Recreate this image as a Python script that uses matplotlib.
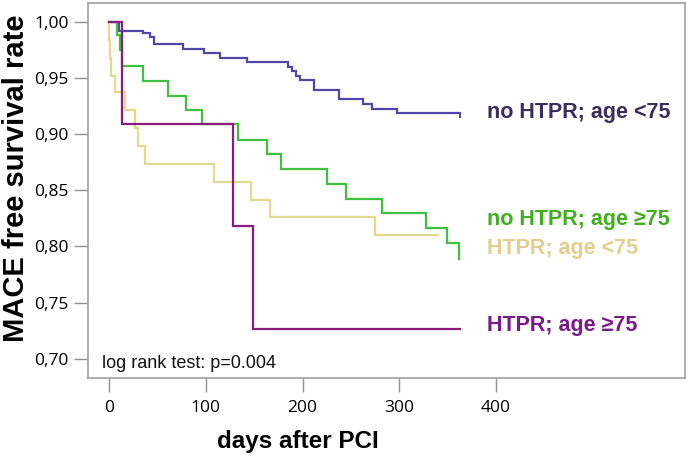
import matplotlib
matplotlib.use("Agg")
import matplotlib.pyplot as plt

# ---- data (days after PCI, MACE free survival) ----
blue_days = [0, 10, 35, 42, 47, 76, 98, 115, 143, 185, 189, 193, 197, 212, 238, 263, 272, 298, 363]
blue_surv = [1.000, 0.992, 0.990, 0.986, 0.980, 0.976, 0.972, 0.968, 0.964, 0.960, 0.956, 0.952, 0.948,
             0.939, 0.931, 0.927, 0.922, 0.919, 0.919]
blue_censor_day = [363]
blue_censor_surv = [0.917]

green_days = [0, 8.6, 11.4, 13.4, 35, 61, 80, 96, 133, 163, 177.5, 225, 245, 282.5, 328, 349, 362]
green_surv = [1.000, 0.988, 0.975, 0.961, 0.947, 0.934, 0.921, 0.909, 0.895, 0.882, 0.869, 0.856,
              0.842, 0.830, 0.816, 0.803, 0.789]

yellow_days = [0, 0.5, 1, 2, 6, 16.5, 26.4, 30.3, 36.7, 108.3, 146.5, 166.4, 275, 340]
yellow_surv = [1.000, 0.984, 0.968, 0.952, 0.937, 0.921, 0.905, 0.889, 0.873, 0.857, 0.841, 0.826,
               0.810, 0.810]

purple_days = [0, 13, 128.5, 149, 363]
purple_surv = [1.000, 0.909, 0.818, 0.727, 0.727]

labels = ["no HTPR; age <75", "no HTPR; age \u226575", "HTPR; age <75", "HTPR; age \u226575"]
label_y = [0.9188, 0.8236, 0.7978, 0.730]
x_ticks = [0, 100, 200, 300, 400]
y_ticks = [0.70, 0.75, 0.80, 0.85, 0.90, 0.95, 1.00]
y_ticklabels = ["0,70", "0,75", "0,80", "0,85", "0,90", "0,95", "1,00"]

line_colors = ["#5048a8", "#40c040", "#e2da8e", "#8c1b7c"]
text_colors = ["#3b2d5e", "#3fae1f", "#e2cf8c", "#7a1a8a"]

fig = plt.figure(figsize=(6.89, 4.61), dpi=100)
ax = fig.add_axes([88/689, 1 - 378/461, (685-88)/689, (378-3)/461])

series = [(blue_days, blue_surv), (green_days, green_surv),
          (yellow_days, yellow_surv), (purple_days, purple_surv)]
for (d, s), c in zip(series, line_colors):
    ax.step(d, s, where="post", color=c, lw=1.6, solid_joinstyle="miter")
ax.plot(blue_censor_day, blue_censor_surv, ls="none", marker="|", ms=5, mew=1.4, color=line_colors[0])

ax.set_xlim(-21.7, 595.3)
ax.set_ylim(0.683, 1.0166)
ax.set_xticks(x_ticks)
ax.set_xticklabels([str(t) for t in x_ticks], fontfamily="Open Sans", fontsize=12.5)
ax.set_yticks(y_ticks)
ax.set_yticklabels(y_ticklabels, fontfamily="Open Sans", fontsize=12.5)
ax.tick_params(axis="x", length=10, width=1, color="#909090", pad=6)
ax.tick_params(axis="y", length=10, width=1, color="#909090", pad=4)
for sp in ax.spines.values():
    sp.set_color("#a0a0a0")
    sp.set_linewidth(1.2)

ax.set_xlabel("days after PCI", fontfamily="Liberation Sans", fontweight="bold", fontsize=17.5)
ax.xaxis.set_label_coords((298 - 88) / 597, -0.139)
ax.set_ylabel("MACE free survival rate", fontfamily="Liberation Sans", fontweight="bold", fontsize=21)
ax.yaxis.set_label_coords((30 - 88) / 597, (378 - 178) / 375)

for lab, yv, c in zip(labels, label_y, text_colors):
    ax.text(390.7, yv, lab, color=c, fontfamily="Liberation Sans", fontweight="bold",
            fontsize=15.5, va="center", ha="left")

ax.text(-7.5, 0.6885, "log rank test: p=0.004", fontfamily="Liberation Sans", fontsize=13,
        va="bottom", ha="left", color="#111111")

fig.savefig("out.png", dpi=100)
